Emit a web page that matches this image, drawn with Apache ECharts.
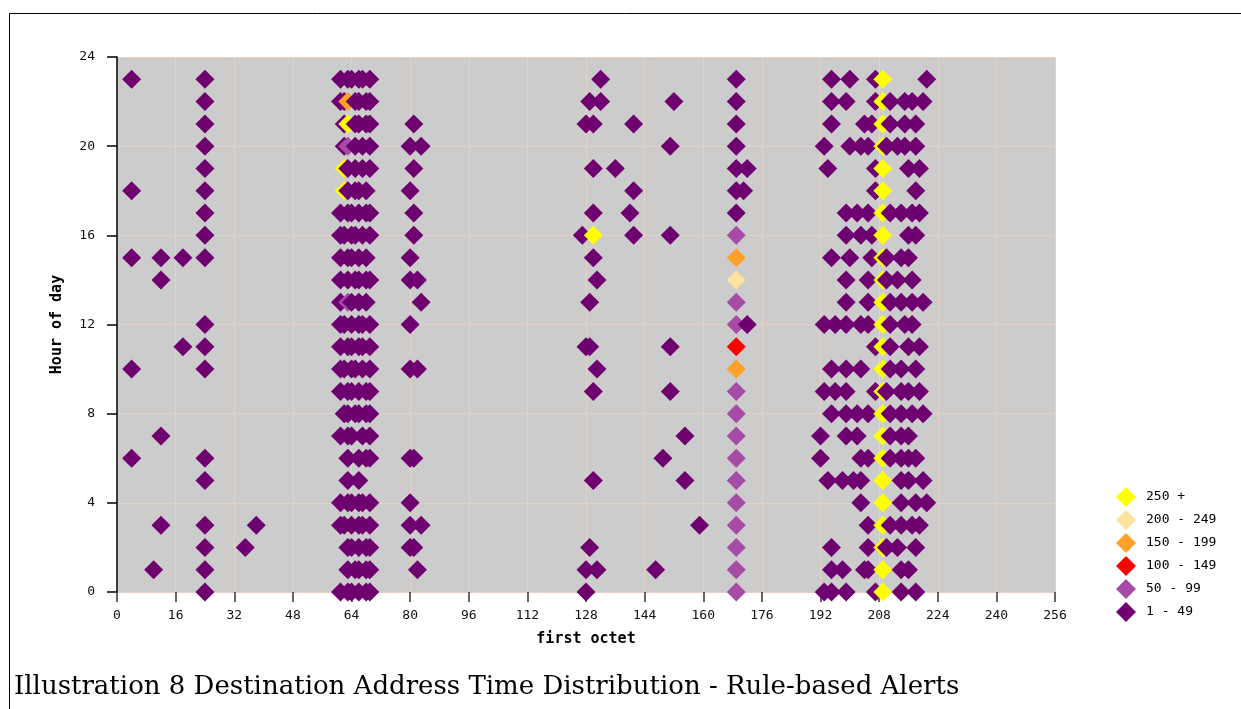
<!DOCTYPE html>
<html><head><meta charset="utf-8">
<script src="https://cdn.jsdelivr.net/npm/echarts@6/dist/echarts.min.js"></script>
<style>html,body{margin:0;padding:0;background:#fff}#c{width:1241px;height:709px}</style>
</head><body><div id="c"></div>
<script>
// ---- axis settings ----
const octetMin = 0, octetMax = 256, octetStep = 16;
const hourMin = 0, hourMax = 24, hourStep = 4;

// ---- legend classes (alert counts) ----
const classLabels = ['1 - 49', '50 - 99', '100 - 149', '150 - 199', '200 - 249', '250 +'];
const classMins   = [1, 50, 100, 150, 200, 250];
const classMaxs   = [49, 99, 149, 199, 249, null];
const classColors = ['#6e0070', '#a64ca6', '#ff0000', '#ffa028', '#ffe1a0', '#ffff00'];

// ---- sparse columns: octet -> hours ----
const sparseOctets = [4, 10, 12, 18, 24, 35, 38];
const sparseHours = [
  [23, 18, 15, 10, 6],
  [1],
  [15, 14, 7, 3],
  [15, 11],
  [23, 22, 21, 20, 19, 18, 17, 16, 15, 12, 11, 10, 6, 5, 3, 2, 1, 0],
  [2],
  [3]
];

// ---- clusters: index = hour (0..23), values = octets with 1-49 alerts ----
const cluster64 = [
  [61, 63, 64, 66, 68, 69], [63, 65, 66, 68, 69], [63, 64, 66, 68, 69], [61, 62, 64, 66, 67, 69],
  [61, 63, 64, 66, 67, 69], [63, 66], [63, 66, 68, 69], [61, 63, 64, 67, 69],
  [62, 63, 65, 66, 68, 69], [61, 63, 64, 66, 68, 69], [61, 62, 64, 65, 67, 69], [61, 63, 64, 66, 67, 69],
  [61, 62, 64, 66, 67, 69], [61, 64, 66, 68], [61, 63, 65, 66, 68, 69], [61, 63, 64, 66, 68],
  [61, 62, 64, 65, 67, 69], [61, 63, 64, 66, 68, 69], [63, 65, 66, 68], [63, 65, 67, 69],
  [62, 65, 67, 69], [62, 65, 66, 68, 69], [61, 62, 65, 66, 68, 69], [61, 63, 64, 66, 67, 69]
];
const cluster80 = [
  [], [82], [80, 81], [80, 83], [80], [], [80, 81], [], [], [], [80, 82], [],
  [80], [83], [80, 82], [80], [81], [81], [80], [81], [80, 83], [81], [], []
];
const cluster128 = [
  [128], [128, 131, 147], [129], [159], [], [130, 155], [149], [155], [], [130, 151], [131], [128, 129, 151],
  [], [129], [131], [130], [127, 141, 151], [130, 140], [141], [130, 136], [151], [128, 130, 141], [129, 132, 152], [132]
];
const cluster172 = [
  [], [], [], [], [], [], [], [], [], [], [], [],
  [172], [], [], [], [], [], [171], [172], [], [], [], []
];
const cluster208 = [
  [193, 195, 199, 207, 214, 218], [195, 198, 204, 205, 214, 216], [195, 205, 210, 213, 218], [205, 211, 214, 217, 219],
  [203, 214, 218, 221], [194, 198, 201, 203, 214, 216, 220], [192, 203, 205, 211, 214, 216, 218], [192, 199, 202, 211, 214, 216],
  [195, 199, 202, 205, 211, 214, 217, 220], [193, 196, 199, 207, 210, 214, 216, 219], [195, 199, 203, 211, 214, 218], [207, 211, 216, 219],
  [193, 196, 199, 203, 205, 211, 215, 217], [199, 205, 211, 214, 217, 220], [199, 205, 210, 213, 217], [195, 200, 206, 210, 214, 216],
  [199, 203, 206, 216, 218], [199, 202, 205, 211, 214, 217, 219], [207, 218], [194, 207, 216, 219],
  [193, 200, 203, 205, 210, 213, 215, 218], [195, 204, 206, 211, 215, 218], [195, 199, 207, 211, 215, 217, 220], [195, 200, 207, 221]
];

// ---- full columns: index = hour, value = alert count ----
const col169Counts = [75, 75, 75, 75, 75, 75, 75, 75, 75, 75, 175, 125,
                      75, 75, 225, 175, 75, 20, 20, 20, 20, 20, 20, 20];
const col209Counts = [300, 300, 300, 300, 300, 300, 300, 300, 300, 300, 300, 300,
                      300, 300, 300, 300, 300, 300, 300, 300, 300, 300, 300, 300];

// ---- other high-count cells: [octet, hour, count] ----
const highlightCells = [[63, 22, 175], [63, 21, 300], [63, 20, 75], [62, 19, 300], [62, 18, 300], [63, 13, 75], [130, 16, 300]];
const lowCount = 20;

// ---- build points ----
const points = [];
sparseOctets.forEach((o, i) => sparseHours[i].forEach(h => points.push([o, h, lowCount])));
[cluster64, cluster80, cluster128, cluster172, cluster208].forEach(cl =>
  cl.forEach((octs, h) => octs.forEach(o => points.push([o, h, lowCount]))));
col169Counts.forEach((c, h) => points.push([169, h, c]));
col209Counts.forEach((c, h) => points.push([209, h, c]));
highlightCells.forEach(p => points.push(p.slice()));
points.sort((a, b) => a[0] - b[0]);

const pieces = classLabels.map((l, i) => {
  const p = { min: classMins[i], label: l, color: classColors[i] };
  if (classMaxs[i] !== null) p.max = classMaxs[i];
  return p;
});

const mono = 'DejaVu Sans Mono';
const chart = echarts.init(document.getElementById('c'), null, { renderer: 'canvas' });
chart.setOption({
  animation: false,
  backgroundColor: '#ffffff',
  grid: { left: 117, top: 57, width: 938, height: 535, show: true, backgroundColor: '#cccccc', borderWidth: 0 },
  xAxis: {
    type: 'value', min: octetMin, max: octetMax, interval: octetStep,
    name: 'first octet', nameLocation: 'middle', nameGap: 40,
    nameTextStyle: { fontFamily: mono, fontWeight: 'bold', fontSize: 15, color: '#000' },
    axisLine: { show: false },
    axisTick: { show: true, length: 10, lineStyle: { color: '#333', width: 1.5 } },
    axisLabel: { margin: 17, fontFamily: mono, fontSize: 13, color: '#111' },
    splitLine: { show: true, lineStyle: { color: '#e4d2c6', width: 1 } }
  },
  yAxis: {
    type: 'value', min: hourMin, max: hourMax, interval: hourStep,
    name: 'Hour of day', nameLocation: 'middle', nameGap: 52,
    nameTextStyle: { fontFamily: mono, fontWeight: 'bold', fontSize: 15, color: '#000' },
    axisLine: { show: true, lineStyle: { color: '#000', width: 1.5 } },
    axisTick: { show: true, length: 10, lineStyle: { color: '#000', width: 1.5 } },
    axisLabel: { margin: 22, fontFamily: mono, fontSize: 13, color: '#111' },
    splitLine: { show: true, lineStyle: { color: '#e4d2c6', width: 1 } }
  },
  visualMap: {
    type: 'piecewise', dimension: 2, seriesIndex: 0,
    pieces: pieces, itemSymbol: 'diamond', align: 'left',
    orient: 'vertical', left: 1101, top: 472,
    itemWidth: 20, itemHeight: 20, itemGap: 3, textGap: 10,
    selectedMode: false, hoverLink: false,
    textStyle: { fontFamily: mono, fontSize: 13, color: '#000' }
  },
  series: [{
    type: 'scatter', symbol: 'diamond', symbolSize: 19, clip: false,
    data: points, itemStyle: { opacity: 1 }
  }],
  graphic: [
    { type: 'rect', shape: { x: 9.5, y: 13.5, width: 1400, height: 900 }, style: { fill: null, stroke: '#000', lineWidth: 1 }, silent: true },
    { type: 'text', left: 14, top: 674, style: { text: 'Illustration 8 Destination Address Time Distribution - Rule-based Alerts', font: '26px "DejaVu Serif"', fill: '#000' } }
  ]
});
</script></body></html>
